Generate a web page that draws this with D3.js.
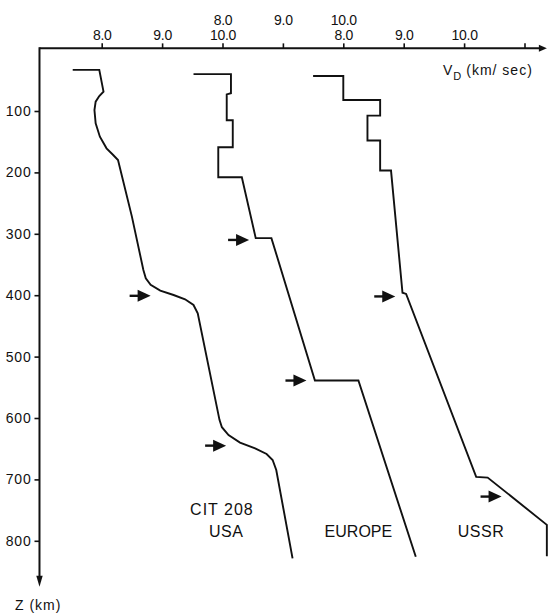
<!DOCTYPE html>
<html><head><meta charset="utf-8">
<script src="https://cdn.jsdelivr.net/npm/d3@7"></script>
<style>
html,body{margin:0;padding:0;background:#fff;}
svg{display:block;}
text{font-family:"Liberation Sans",Arial,sans-serif;fill:#111;}
</style></head><body>
<svg id="chart" width="550" height="613"></svg>
<script>
// ---- axis ticks & labels ----
const velTicks = [8, 9, 10, 11, 12, 13, 14, 15];
const lowerTickLabels = ["8.0", "9.0", "10.0", "", "8.0", "9.0", "10.0", ""];
const upperTickLabels = ["", "", "8.0", "9.0", "10.0", "", "", ""];
const depthTicks = [100, 200, 300, 400, 500, 600, 700, 800];

// ---- profiles (depth km, Vp km/s) ----
const profileNames = ["CIT 208 USA", "EUROPE", "USSR"];
const profileOffsets = [0, 2, 4];   // km/s shift of each profile's velocity scale

const usaDepth = [33, 33, 68.5, 75.6, 84.8, 98.4, 120, 141.8, 160.8, 171.7, 179.8, 272, 359, 372.5, 383, 392.6, 399.7, 406.7, 416, 429.5, 603, 615, 627.7, 640, 649.4, 658.6, 668.4, 684.7, 828.5];
const usaVel   = [7.52, 7.96, 8.03, 7.96, 7.90, 7.88, 7.90, 7.97, 8.08, 8.19, 8.27, 8.50, 8.69, 8.73, 8.81, 8.97, 9.19, 9.38, 9.52, 9.59, 9.95, 9.99, 10.10, 10.29, 10.54, 10.73, 10.83, 10.89, 11.16];

const eurDepth = [40, 40, 71, 73, 115, 115, 159, 159, 208, 208, 307, 307, 539, 539, 826];
const eurVel   = [7.52, 8.14, 8.14, 8.07, 8.07, 8.17, 8.17, 7.93, 7.93, 8.32, 8.55, 8.81, 9.53, 10.25, 11.20];

const ussrDepth = [43, 43, 82, 82, 107.6, 107.6, 148, 148, 197, 197, 396, 398, 696, 697, 774, 825];
const ussrVel   = [7.50, 8.00, 8.00, 8.61, 8.61, 8.40, 8.40, 8.61, 8.61, 8.79, 8.98, 9.04, 10.20, 10.39, 11.37, 11.37];

// discontinuity arrows (tip velocity, depth)
const usaArrowDepth = [401, 645];   const usaArrowVel = [8.81, 10.06];
const eurArrowDepth = [310, 539];   const eurArrowVel = [8.44, 9.39];
const ussrArrowDepth = [402, 728];  const ussrArrowVel = [8.86, 10.62];

// label anchors (shifted velocity, depth)
const axisExtentVel = [6.97, 15.37];
const axisExtentDepth = [-2, 875];

const svg = d3.select("#chart");
const x = d3.scaleLinear().domain([8, 15]).range([101.7, 524.5]);
const y = d3.scaleLinear().domain([0, 800]).range([49.6, 540.8]);

const ink = "#111";
const x0 = x(axisExtentVel[0]), x1 = x(axisExtentVel[1]);
const y0 = y(axisExtentDepth[0]), y1 = y(axisExtentDepth[1]);

// top axis
const gTop = svg.append("g").attr("transform", `translate(0,${y0})`)
  .call(d3.axisTop(x).tickValues(velTicks).tickSize(5).tickPadding(3.5)
    .tickFormat((d, i) => lowerTickLabels[i]));
gTop.select(".domain").remove();
gTop.selectAll(".tick line").attr("stroke", ink).attr("stroke-width", 1.6);
gTop.selectAll(".tick text").attr("font-size", 14).attr("fill", ink).attr("letter-spacing", "-0.3px");
gTop.selectAll(".tick").append("text")
  .attr("y", -23).attr("text-anchor", "middle").attr("font-size", 14)
  .attr("fill", ink).attr("letter-spacing", "-0.3px")
  .text((d, i) => upperTickLabels[i]);

// left axis
const gLeft = svg.append("g").attr("transform", `translate(${x0},0)`)
  .call(d3.axisLeft(y).tickValues(depthTicks).tickSize(5).tickPadding(3)
    .tickFormat(d3.format("d")));
gLeft.select(".domain").remove();
gLeft.selectAll(".tick line").attr("stroke", ink).attr("stroke-width", 1.6);
gLeft.selectAll(".tick text").attr("font-size", 14).attr("fill", ink).attr("letter-spacing", "0.8px");

// axis lines with arrowheads
svg.append("path").attr("d", `M${x0},${y0}H${x1 - 6}`).attr("stroke", ink).attr("stroke-width", 2).attr("fill", "none");
svg.append("path").attr("d", `M${x1 - 8},${y0 - 3.5}L${x1},${y0}L${x1 - 8},${y0 + 3.5}Z`).attr("fill", ink);
svg.append("path").attr("d", `M${x0},${y0 - 1}V${y1 - 8}`).attr("stroke", ink).attr("stroke-width", 2).attr("fill", "none");
svg.append("path").attr("d", `M${x0 - 3.2},${y1 - 11}L${x0},${y1}L${x0 + 3.2},${y1 - 11}Z`).attr("fill", ink);

// axis titles
const vt = svg.append("text").attr("x", x(13.65)).attr("y", y(41)).attr("font-size", 14).attr("letter-spacing", "1px");
vt.append("tspan").text("V");
vt.append("tspan").attr("font-size", 11).attr("dy", 5).text("D");
vt.append("tspan").attr("dy", -5).attr("dx", 4).text("(km/ sec)");
svg.append("text").attr("x", 15).attr("y", y1 + 23).attr("font-size", 14).attr("letter-spacing", "1px").text("Z (km)");

// profiles
const profiles = [
  {depth: usaDepth, vel: usaVel, ad: usaArrowDepth, av: usaArrowVel},
  {depth: eurDepth, vel: eurVel, ad: eurArrowDepth, av: eurArrowVel},
  {depth: ussrDepth, vel: ussrVel, ad: ussrArrowDepth, av: ussrArrowVel}
];
profiles.forEach((p, k) => {
  const off = profileOffsets[k];
  const pts = p.depth.map((z, i) => [p.vel[i] + off, z]);
  const line = d3.line().x(d => x(d[0])).y(d => y(d[1]));
  svg.append("path").attr("d", line(pts)).attr("fill", "none")
    .attr("stroke", ink).attr("stroke-width", 1.9).attr("stroke-linejoin", "miter");
  p.ad.forEach((z, i) => {
    const tx = x(p.av[i] + off), ty = y(z);
    svg.append("path").attr("d", `M${tx - 21},${ty}H${tx - 11}`).attr("stroke", ink).attr("stroke-width", 2.4);
    svg.append("path").attr("d", `M${tx - 13},${ty - 6}L${tx},${ty}L${tx - 13},${ty + 6}Z`).attr("fill", ink);
  });
});

// profile labels
const labelFont = 16;
svg.append("text").attr("x", x(9.99)).attr("y", y(758)).attr("text-anchor", "middle")
  .attr("font-size", labelFont).attr("letter-spacing", "1px").text("CIT 208");
svg.append("text").attr("x", x(10.06)).attr("y", y(793)).attr("text-anchor", "middle")
  .attr("font-size", labelFont).attr("letter-spacing", "0.5px").text("USA");
svg.append("text").attr("x", x(12.25)).attr("y", y(793)).attr("text-anchor", "middle")
  .attr("font-size", labelFont).attr("letter-spacing", "0px").text(profileNames[1]);
svg.append("text").attr("x", x(14.28)).attr("y", y(793)).attr("text-anchor", "middle")
  .attr("font-size", labelFont).attr("letter-spacing", "0.5px").text(profileNames[2]);
</script>
</body></html>
